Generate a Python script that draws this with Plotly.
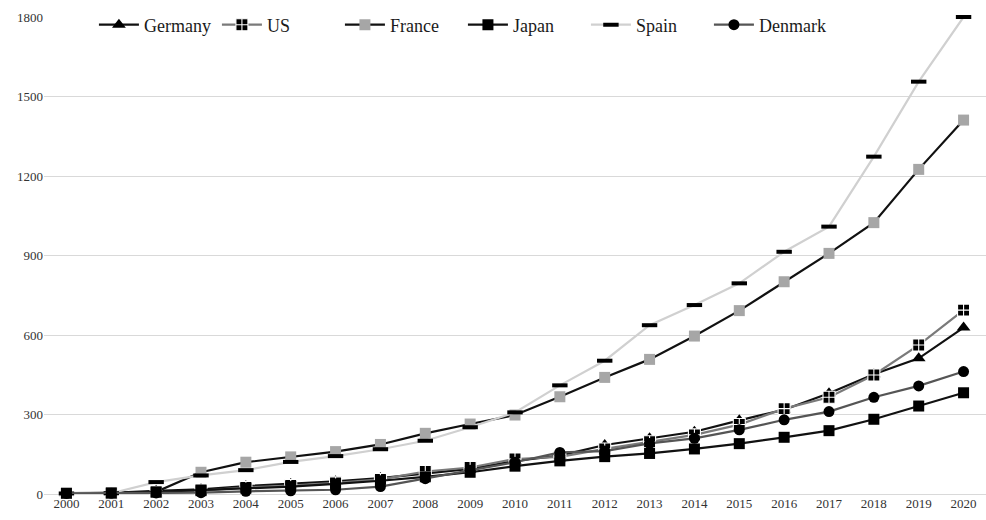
import plotly.graph_objects as go

# Installed capacity by country, 2000-2020
years = [str(y) for y in range(2000, 2021)]

germany = [3, 4, 12, 18, 30, 38, 48, 60, 78, 95, 125, 145, 185, 210, 235, 278, 318, 380, 452, 512, 628]
us = [2, 3, 6, 12, 25, 32, 42, 55, 85, 100, 132, 140, 170, 197, 223, 262, 322, 365, 449, 562, 694]
france = [2, 3, 8, 82, 120, 140, 160, 187, 229, 264, 298, 367, 440, 508, 596, 692, 801, 908, 1024, 1225, 1411]
japan = [3, 4, 8, 15, 22, 28, 38, 50, 65, 82, 105, 125, 141, 153, 170, 190, 214, 239, 282, 332, 382]
spain = [2, 3, 45, 70, 90, 121, 143, 169, 201, 252, 308, 410, 503, 637, 713, 795, 914, 1009, 1273, 1556, 1800]
denmark = [2, 3, 4, 5, 10, 12, 16, 28, 58, 90, 120, 157, 162, 191, 210, 242, 280, 311, 365, 408, 462]

y_ticks = [0, 300, 600, 900, 1200, 1500, 1800]

SERIF = "Liberation Serif"

series = [
    dict(name="Germany", y=germany, line="#111111",
         marker=dict(symbol="triangle-up", size=12, color="#000000")),
    dict(name="US", y=us, line="#7a7a7a",
         marker=dict(symbol="square-cross", size=12, color="#000000",
                     line=dict(color="#ffffff", width=1.1))),
    dict(name="France", y=france, line="#111111",
         marker=dict(symbol="square", size=11, color="#a6a6a6")),
    dict(name="Japan", y=japan, line="#111111",
         marker=dict(symbol="square", size=11, color="#000000")),
    dict(name="Spain", y=spain, line="#d0d0d0",
         marker=dict(symbol="line-ew", size=11, color="#000000",
                     line=dict(color="#000000", width=4))),
    dict(name="Denmark", y=denmark, line="#555555",
         marker=dict(symbol="circle", size=11, color="#000000")),
]

fig = go.Figure()
for s in series:
    fig.add_trace(go.Scatter(
        x=years, y=s["y"], name=s["name"], mode="lines+markers",
        line=dict(color=s["line"], width=2.2),
        marker=s["marker"], cliponaxis=False,
    ))

fig.update_layout(
    width=986, height=520,
    margin=dict(l=44, r=0, t=17, b=26),
    paper_bgcolor="#ffffff", plot_bgcolor="#ffffff",
    font=dict(family=SERIF, size=14, color="#333333"),
    legend=dict(
        orientation="h", x=0.053, xanchor="left",
        y=1.022, yanchor="top",
        font=dict(family=SERIF, size=18, color="#1a1a1a"),
        bgcolor="rgba(0,0,0,0)", itemwidth=40,
        entrywidth=68, entrywidthmode="pixels",
    ),
    xaxis=dict(
        type="category", range=[-0.5, 20.5], showgrid=False,
        showline=False, ticks="", tickfont=dict(family=SERIF, size=13),
    ),
    yaxis=dict(
        range=[0, 1800], tickvals=y_ticks, showgrid=True,
        gridcolor="#d9d9d9", gridwidth=1, zeroline=True,
        zerolinecolor="#d9d9d9", zerolinewidth=1, showline=False,
        ticks="", tickfont=dict(family=SERIF, size=13),
    ),
)

fig.write_html("out.html")
